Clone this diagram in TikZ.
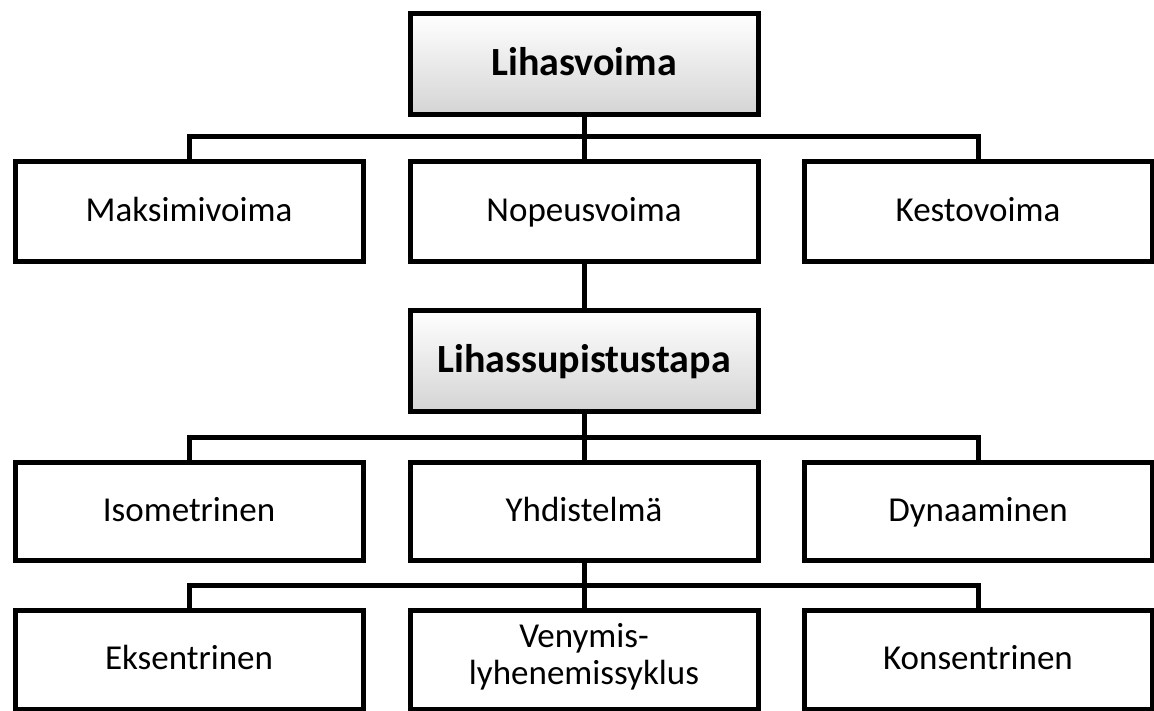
\documentclass[tikz,border=0pt]{standalone}
\usepackage{fontspec}
\setmainfont{Carlito}
\begin{document}
\begin{tikzpicture}[x=1pt,y=-1pt,
  box/.style={draw=black, line width=5pt, minimum width=348pt, minimum height=99pt,
    inner sep=0pt, align=center, font=\fontsize{35}{35}\selectfont, fill=white,
    text height=22pt, text depth=2pt},
  headbox/.style={box, top color=white, bottom color=black!17,
    font=\fontsize{40}{40}\selectfont\bfseries, text height=24pt, text depth=2pt},
  conn/.style={line width=5pt}
]
\useasboundingbox (0,0) rectangle (1154,711);
\fill[white] (0,0) rectangle (1154,711);

% nodes
\node[headbox, minimum height=101pt] (lv) at (584,64.5) {Lihasvoima};
\node[box, minimum height=100pt] (mak) at (189,212) {Maksimivoima};
\node[box, minimum height=100pt] (nop) at (584,212) {Nopeusvoima};
\node[box, minimum height=100pt] (kes) at (978,212) {Kestovoima};
\node[headbox, minimum height=100pt] (ls) at (584,361) {Lihassupistustapa};
\node[box, minimum height=98pt] (iso) at (189,511) {Isometrinen};
\node[box, minimum height=98pt] (yhd) at (584,511) {Yhdistelmä};
\node[box, minimum height=98pt] (dyn) at (978,511) {Dynaaminen};
\node[box, minimum height=99pt] (eks) at (189,659.5) {Eksentrinen};
\node[box, minimum height=99pt, text height=51pt, text depth=2pt] (ven) at (584,659.5) {Venymis-\\[2pt]lyhenemissyklus};
\node[box, minimum height=99pt] (kon) at (978,659.5) {Konsentrinen};

% branch points
\coordinate (b1) at (584,137);
\coordinate (b2) at (584,437);
\coordinate (b3) at (584,585);

% connectors
\draw[conn] (lv.south) -- (b1);
\draw[conn] (mak.north) |- (b1) -| (kes.north);
\draw[conn] (b1) -- (nop.north);
\draw[conn] (nop.south) -- (ls.north);
\draw[conn] (ls.south) -- (b2);
\draw[conn] (iso.north) |- (b2) -| (dyn.north);
\draw[conn] (b2) -- (yhd.north);
\draw[conn] (yhd.south) -- (b3);
\draw[conn] (eks.north) |- (b3) -| (kon.north);
\draw[conn] (b3) -- (ven.north);
\end{tikzpicture}
\end{document}
